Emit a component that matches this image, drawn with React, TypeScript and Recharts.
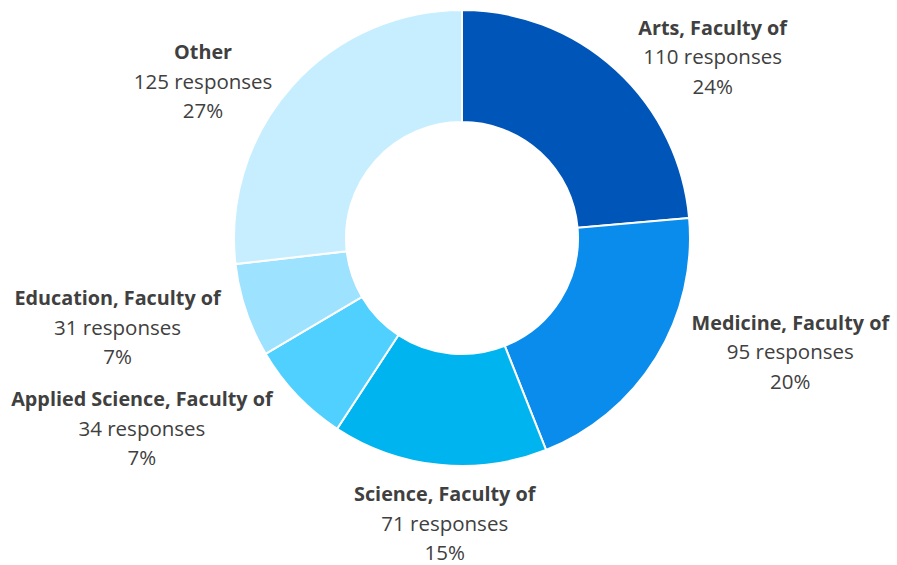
import { PieChart, Pie, Cell } from "recharts";

const faculties = [
  "Arts, Faculty of",
  "Medicine, Faculty of",
  "Science, Faculty of",
  "Applied Science, Faculty of",
  "Education, Faculty of",
  "Other",
];
const responses = [110, 95, 71, 34, 31, 125];

const COLORS = ["#0055b8", "#0a8ced", "#00b4ef", "#4fd0ff", "#9de2ff", "#c7eeff"];

// nudge from the radial point (r = 300) to where the label block sits
const LABEL_NUDGE: [number, number][] = [
  [48, 41],
  [73, -43],
  [13, -12],
  [-103, -16],
  [-60, -5],
  [-35, 44],
];

const data = faculties.map((name, i) => ({ name, value: responses[i] }));

const RADIAN = Math.PI / 180;

function renderLabel(props: any) {
  const { cx, cy, midAngle, percent, index, name, value } = props;
  const r = 300;
  const x = cx + r * Math.cos(-midAngle * RADIAN) + LABEL_NUDGE[index][0];
  const y = cy + r * Math.sin(-midAngle * RADIAN) + LABEL_NUDGE[index][1];
  return (
    <text
      x={x}
      y={y}
      textAnchor="middle"
      fill="#404040"
      fontFamily="'Open Sans', sans-serif"
      fontSize={20.5}
    >
      <tspan x={x} dy={-23} fontWeight="bold" fontSize={19.8}>
        {name}
      </tspan>
      <tspan x={x} dy={29.5}>
        {value} responses
      </tspan>
      <tspan x={x} dy={29.5}>
        {Math.round(percent * 100)}%
      </tspan>
    </text>
  );
}

export default function App() {
  return (
    <div style={{ position: "absolute", left: 0, top: 0, background: "#fff" }}>
      <PieChart width={897} height={565} margin={{ top: 0, right: 0, bottom: 0, left: 0 }}>
        <Pie
          data={data}
          dataKey="value"
          nameKey="name"
          cx={462}
          cy={238}
          innerRadius={116}
          outerRadius={228}
          startAngle={90}
          endAngle={-270}
          stroke="#ffffff"
          strokeWidth={2}
          label={renderLabel}
          labelLine={false}
          isAnimationActive={false}
        >
          {data.map((d, i) => (
            <Cell key={d.name} fill={COLORS[i]} />
          ))}
        </Pie>
      </PieChart>
    </div>
  );
}
